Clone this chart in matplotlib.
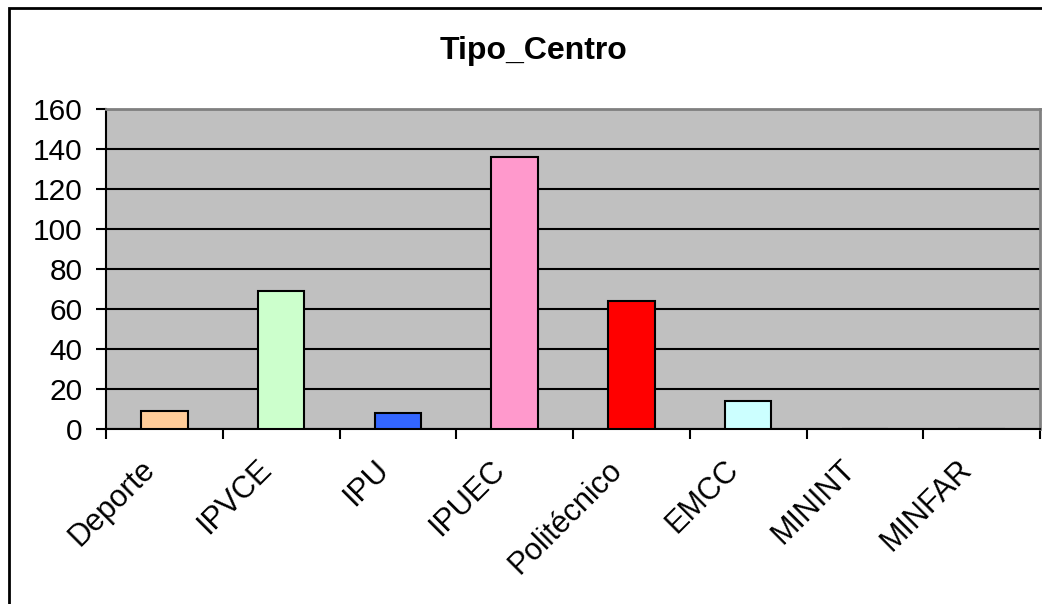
import matplotlib
matplotlib.use('Agg')
import matplotlib.pyplot as plt
import matplotlib.patches as patches
import matplotlib.transforms as mtransforms
import numpy as np

'''
Tipo_Centro - column chart, Excel style
'''

categories = ['Deporte', 'IPVCE', 'IPU', 'IPUEC', 'Politécnico', 'EMCC', 'MININT', 'MINFAR']
values = [9, 69, 8, 136, 64, 14, 0, 0]
colors = ['#FFCC99', '#CCFFCC', '#3366FF', '#FF99CC', '#FF0000', '#CCFFFF', '#CCFFFF', '#CCFFFF']
yticks = [0, 20, 40, 60, 80, 100, 120, 140, 160]

plt.rcParams['font.family'] = ['Liberation Sans', 'DejaVu Sans']

W, H = 1042, 604
fig = plt.figure(figsize=(W / 100, H / 100), dpi=100)
fig.patch.set_facecolor('white')

# plot area in pixels: x 106..1040, y 109..429
ax = fig.add_axes([106 / W, 1 - 429 / H, (1040 - 106) / W, (429 - 109) / H])
ax.set_facecolor('#C0C0C0')

x = np.arange(len(categories))
ax.set_axisbelow(True)
ax.yaxis.grid(True, color='black', linewidth=1.5)
ax.bar(x, values, width=0.4, color=colors, edgecolor='black', linewidth=1.5, zorder=3)

ax.set_xlim(-0.5, len(categories) - 0.5)
ax.set_ylim(0, 160)
ax.set_yticks(yticks)
ax.tick_params(axis='y', direction='out', length=7, width=1.5, pad=10, labelsize=21.5)

# ticks at category boundaries, labels at centres
ax.set_xticks(x)
ax.set_xticklabels(categories, rotation=45, ha='right', va='center', rotation_mode='anchor')
ax.set_xticks(np.arange(len(categories) + 1) - 0.5, minor=True)
ax.tick_params(axis='x', which='major', length=0, pad=34, labelsize=22)
ax.tick_params(axis='x', which='minor', direction='out', length=7, width=1.5)

# nudge rotated labels up-left like Excel does
shift = mtransforms.ScaledTranslation(-14 / 100, 11 / 100, fig.dpi_scale_trans)
for lbl in ax.get_xticklabels():
    lbl.set_transform(lbl.get_transform() + shift)

for side in ['left', 'bottom']:
    ax.spines[side].set_color('black')
    ax.spines[side].set_linewidth(1.5)
for side in ['top', 'right']:
    ax.spines[side].set_color('#808080')
    ax.spines[side].set_linewidth(2)

fig.text(534 / W, 1 - 51 / H, 'Tipo_Centro', ha='center', va='center',
         fontsize=23, fontweight='bold')

# outer chart border (right and bottom fall outside the image)
border = patches.Rectangle((9 / W, -0.1), 1.2, 1.1 - 8 / H, transform=fig.transFigure,
                           fill=False, edgecolor='black', linewidth=2, clip_on=False)
fig.patches.append(border)

fig.savefig('out.png', dpi=100)
